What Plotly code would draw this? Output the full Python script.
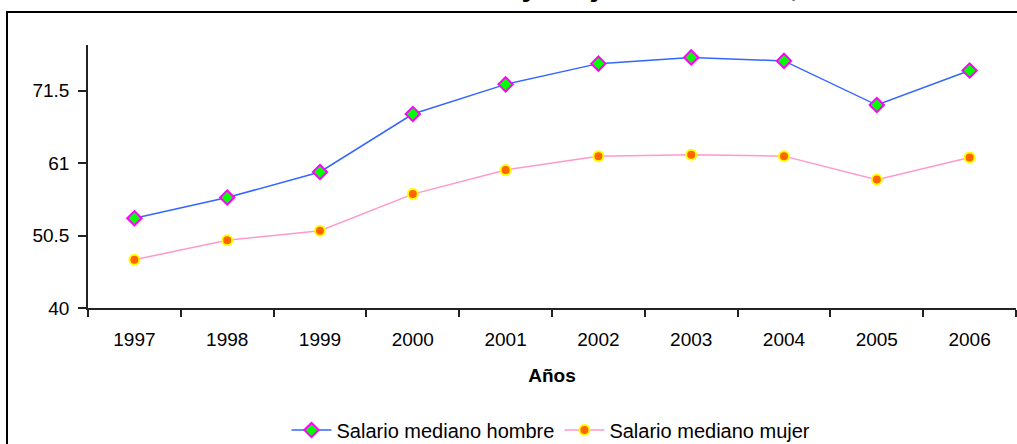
import plotly.graph_objects as go

years = ["1997", "1998", "1999", "2000", "2001", "2002", "2003", "2004", "2005", "2006"]
hombre = [53.0, 56.0, 59.7, 68.1, 72.4, 75.4, 76.3, 75.8, 69.4, 74.4]
mujer = [47.0, 49.8, 51.2, 56.5, 60.0, 62.0, 62.2, 62.0, 58.6, 61.8]
y_ticks = [40, 50.5, 61, 71.5]
y_tick_text = ["40", "50.5", "61", "71.5"]
title_text = "Salario mediano de hombres y mujeres en miles, 1997-2006"

W, H = 1017, 444
# reference plot area (page px): x 88..1016, y 45..308
L, T = 88, 45
R = W - 1016
B = H - 308
pw, ph = W - L - R, H - T - B

def px_x(x):
    return (x - L) / pw

def px_y(y):
    return (H - B - y) / ph

FONT = "Liberation Sans, Arial, sans-serif"
FS = 19

fig = go.Figure()
fig.add_trace(go.Scatter(
    x=years, y=hombre, mode="lines+markers", name="Salario mediano hombre",
    line=dict(color="#3366FF", width=1.5),
    marker=dict(symbol="diamond", size=11, color="#00FF00",
                line=dict(color="#FF00FF", width=2)),
))
fig.add_trace(go.Scatter(
    x=years, y=mujer, mode="lines+markers", name="Salario mediano mujer",
    line=dict(color="#FF99CC", width=1.5),
    marker=dict(symbol="circle", size=10, color="#FF6600",
                line=dict(color="#FFFF00", width=2)),
))

fig.update_layout(
    width=W, height=H,
    margin=dict(l=L, r=R, t=T, b=B, pad=0, autoexpand=False),
    paper_bgcolor="white", plot_bgcolor="white",
    font=dict(family=FONT, size=FS, color="black"),
    showlegend=True,
    legend=dict(orientation="h", xref="container", yref="container",
                x=551 / W, xanchor="center",
                y=1 - 430 / H, yanchor="middle", font=dict(size=20),
                itemwidth=40, tracegroupgap=0, bgcolor="rgba(0,0,0,0)"),
    xaxis=dict(
        type="category", range=[-0.5, 9.5], tickson="boundaries",
        showline=True, linecolor="#222", linewidth=1.5,
        ticks="outside", ticklen=7, tickcolor="#222", tickwidth=1.5,
        showgrid=False, zeroline=False, automargin=False,
        tickfont=dict(size=FS), ticklabelstandoff=13,
        title=dict(text="<b>Años</b>", font=dict(size=FS), standoff=20),
    ),
    yaxis=dict(
        range=[40, 78.1], tickvals=y_ticks, ticktext=y_tick_text,
        showline=True, linecolor="#222", linewidth=1.5,
        ticks="outside", ticklen=8, tickcolor="#222", tickwidth=1.5,
        showgrid=False, zeroline=False, tickfont=dict(size=FS),
        ticklabelstandoff=5, automargin=False,
    ),
    shapes=[dict(type="rect", xref="paper", yref="paper",
                 x0=px_x(7), x1=px_x(1040), y0=px_y(470), y1=px_y(12),
                 line=dict(color="black", width=2), fillcolor="rgba(0,0,0,0)",
                 layer="above")],
    annotations=[dict(text="<b>" + title_text + "</b>", xref="paper", yref="paper",
                      x=px_x(526), y=px_y(4), xanchor="center", yanchor="bottom",
                      showarrow=False, font=dict(size=30, family=FONT))],
)

fig.write_html("out.html", config={"displayModeBar": False},
               post_script="document.body.style.margin='0px';document.body.style.overflow='hidden';")
